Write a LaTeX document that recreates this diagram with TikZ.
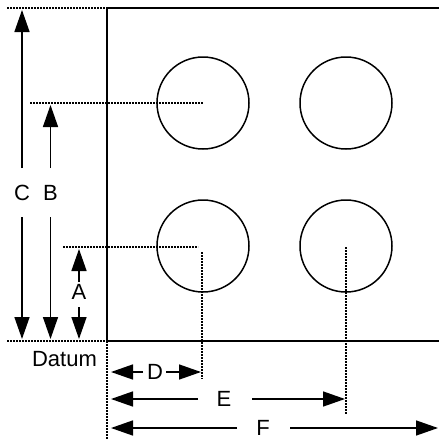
\documentclass[tikz,border=0pt]{standalone}
\usepackage{fontspec}
\setmainfont{Liberation Sans}
\usetikzlibrary{arrows.meta}
\begin{document}
\begin{tikzpicture}[x=1pt,y=-1pt,
  solidline/.style={line width=1.5pt},
  dotline/.style={line width=2.6pt, dash pattern=on 2pt off 1pt},
  dimarrow/.style={line width=1.5pt, -{Triangle[length=22pt,width=15pt]}},
  hole/.style={circle, draw, line width=1.5pt, minimum size=92pt, inner sep=0pt},
  lbl/.style={font=\fontsize{22}{24}\selectfont, inner sep=0pt}]
\useasboundingbox (0,0) rectangle (439,440);
% plate
\coordinate (pTL) at (107,8);
\coordinate (pTR) at (439,8);
\coordinate (pBL) at (107,341);
\coordinate (pBR) at (439,341);
\draw[solidline] (pTR) -- (pTL) -- (pBL) -- (pBR);
% holes
\node[hole] (h1) at (203,103) {};
\node[hole] (h2) at (346,103) {};
\node[hole] (h3) at (203,246) {};
\node[hole] (h4) at (346,246) {};
% extension lines
\coordinate (topL) at (7,8);
\coordinate (datL) at (7,341);
\coordinate (datB) at (107,440);
\coordinate (bL) at (30,103);
\coordinate (aL) at (63,247);
\coordinate (aR) at (198,247);
\coordinate (dT) at (202,252);
\coordinate (dB) at (202,379);
\coordinate (eT) at (346,247);
\coordinate (eB) at (346,414);
\draw[dotline] (topL) -- (pTL);
\draw[dotline] (datL) -- (pBL);
\draw[dotline] (pBL) -- (datB);
\draw[dotline] (bL) -- (h1.center);
\draw[dotline] (aL) -- (aR);
\draw[dotline] (dT) -- (dB);
\draw[dotline] (eT) -- (eB);
% labels
\node[lbl] (C) at (22,193) {C};
\node[lbl] (B) at (50.5,193) {B};
\node[lbl] (A) at (79,292) {A};
\node[lbl] (datum) at (64.5,359) {Datum};
\node[lbl] (D) at (155,372) {D};
\node[lbl] (E) at (224,399) {E};
\node[lbl] (F) at (263,428) {F};
% arrow coordinates
\coordinate (c1) at (22,168); \coordinate (cT) at (22,10);
\coordinate (c2) at (22,217); \coordinate (cB) at (22,339);
\coordinate (b1) at (50.5,168); \coordinate (bT) at (50.5,105);
\coordinate (b2) at (50.5,217); \coordinate (bB) at (50.5,339);
\coordinate (a1) at (79,282); \coordinate (aT) at (79,249);
\coordinate (a2) at (79,307); \coordinate (aB) at (79,339);
\coordinate (d1) at (143,372); \coordinate (dL) at (111,372);
\coordinate (d2) at (166,372); \coordinate (dR) at (201,372);
\coordinate (e1) at (198,399); \coordinate (eL) at (111,399);
\coordinate (e2) at (252,399); \coordinate (eR) at (345,399);
\coordinate (f1) at (237,428); \coordinate (fL) at (111,428);
\coordinate (f2) at (290,428); \coordinate (fR) at (438,428);
\draw[dimarrow] (c1) -- (cT);
\draw[dimarrow] (c2) -- (cB);
\draw[dimarrow] (b1) -- (bT);
\draw[dimarrow] (b2) -- (bB);
\draw[dimarrow] (a1) -- (aT);
\draw[dimarrow] (a2) -- (aB);
\draw[dimarrow] (d1) -- (dL);
\draw[dimarrow] (d2) -- (dR);
\draw[dimarrow] (e1) -- (eL);
\draw[dimarrow] (e2) -- (eR);
\draw[dimarrow] (f1) -- (fL);
\draw[dimarrow] (f2) -- (fR);
\end{tikzpicture}
\end{document}
